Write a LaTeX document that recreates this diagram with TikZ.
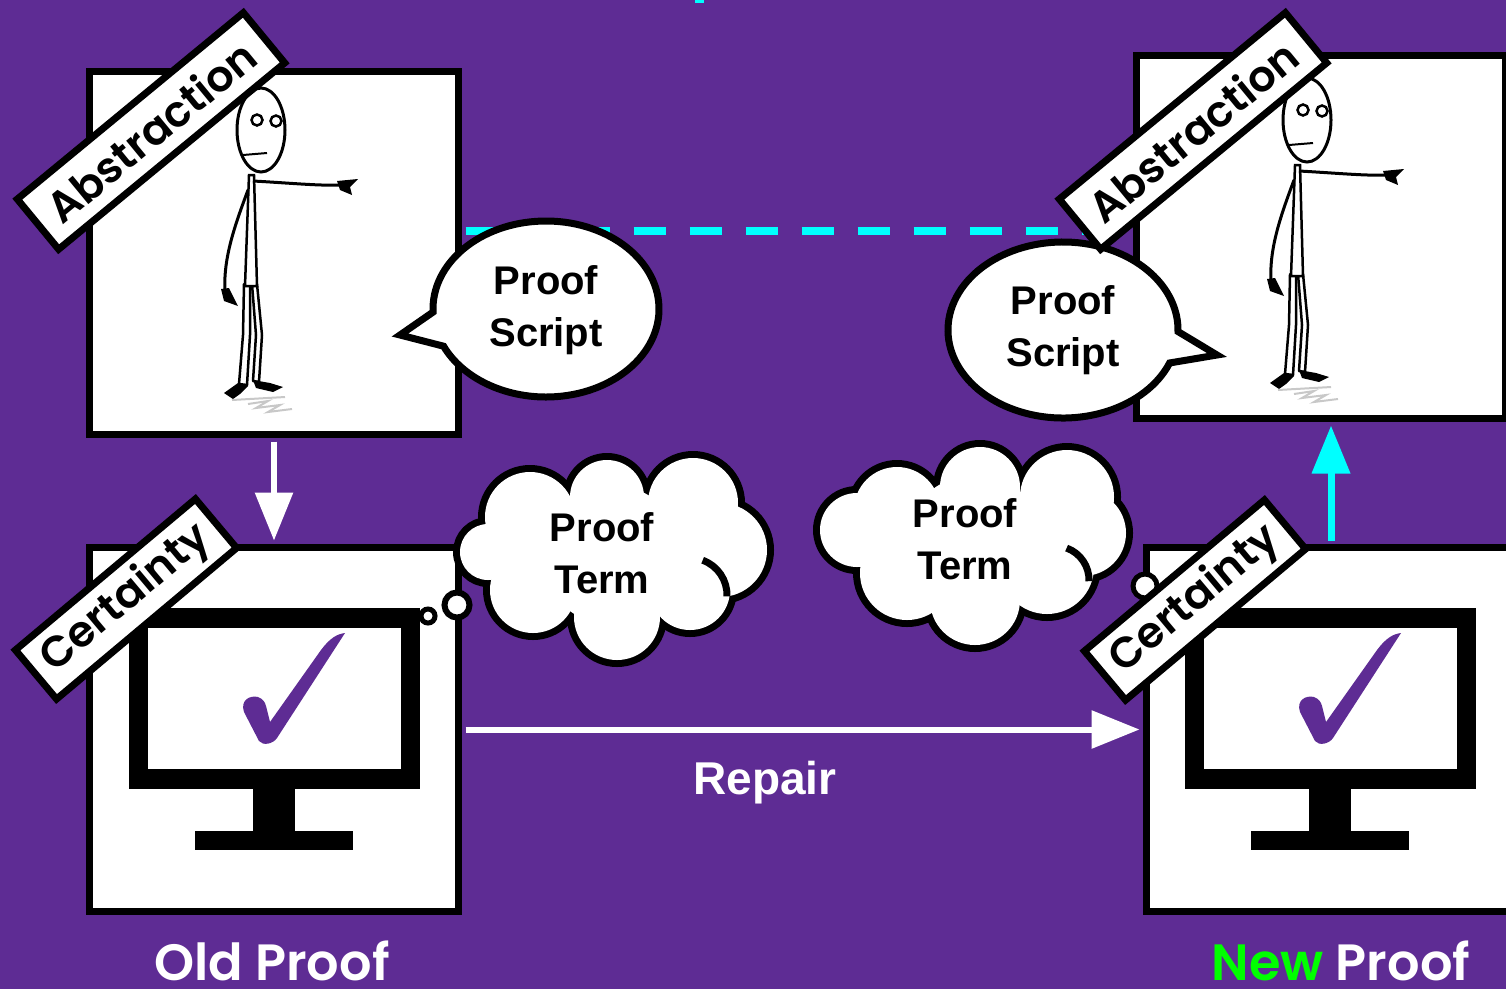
\documentclass[tikz,border=0pt]{standalone}
\usepackage{fontspec}
\setmainfont{Liberation Sans}
\newfontfamily\geo{Poppins}[UprightFont=* SemiBold]
\usetikzlibrary{arrows.meta}
\definecolor{bgpurple}{RGB}{94,44,148}
\definecolor{cyanline}{RGB}{0,255,255}
\definecolor{newgreen}{RGB}{0,255,0}

% lobes of the two thought clouds: x/y/radius
\newcommand\cloudleftlobes{488/552/28, 530/517/45, 607/497/37, 693/503/45, 720/550/47, 690/590/40, 617/617/43, 533/590/43, 612/555/70}
\newcommand\cloudrightlobes{857/530/37, 897/510/43, 980/487/40, 1067/497/47, 1083/533/43, 1047/567/47, 975/600/45, 907/573/47, 975/545/70}

\begin{document}
\begin{tikzpicture}[x=1pt,y=-1pt,
  panel/.style={draw=black, fill=white, line width=7pt, minimum width=369pt, minimum height=363pt, inner sep=0pt},
  tag/.style={draw=black, fill=white, line width=7pt, inner sep=0pt, text=black, font=\geo\fontsize{43}{43}\selectfont},
  bubbletext/.style={font=\bfseries\fontsize{40}{52}\selectfont, align=center, text=black},
  outline/.style={draw=black, fill=white, line width=7pt, line join=miter},
  flow/.style={draw=white, line width=6pt, -{Triangle[length=48pt,width=37pt]}, shorten <=3.5pt, shorten >=3.5pt},
  curl/.style={draw=black, line width=7pt},
  stickman/.pic={
    % legs
    \filldraw[fill=white, line width=2.5pt, line join=round] (244,284) -- (243,335) -- (239,384) -- (247,385) -- (250,335) -- (250,284) -- cycle;
    \filldraw[fill=white, line width=2.5pt, line join=round] (252,284) -- (256,335) -- (253,381) -- (259,382) -- (262,335) -- (257,284) -- cycle;
    % torso
    \filldraw[fill=white, line width=2.5pt] (249,175) -- (245,286) -- (257,286) -- (254,175) -- cycle;
    % feet
    \fill (224,393) -- (238,383) -- (248,386) -- (240,394) -- (233,399) -- cycle;
    \fill (253,380) -- (270,383) -- (283,387) -- (273,392) -- (256,388) -- cycle;
    % shadow
    \draw[gray!60, line width=2pt, opacity=.7] (232,400) -- (285,397) (248,404) -- (268,401) -- (256,408) -- (280,405) -- (268,412) -- (292,409);
    % hanging arm
    \draw[line width=3pt] (248,190) .. controls (235,225) and (223,258) .. (225,292);
    \fill (221,289) -- (229,288) -- (238,306) -- (224,301) -- cycle;
    % pointing arm
    \draw[line width=3pt] (253,181) .. controls (290,183) and (320,186) .. (342,185);
    \fill (337,181) -- (358,179) -- (350,187) -- (352,195) -- (340,190) -- cycle;
    % head
    \filldraw[fill=white, line width=3pt] (261,130) ellipse[x radius=24, y radius=42];
    \draw[line width=2.5pt] (257,120) circle[radius=5.5] (276,121) circle[radius=5.5];
    \draw[line width=2pt] (243,155) -- (267,153);
  },
  monitor/.pic={
    \fill[black] (129,608) rectangle (420,789);
    \fill[white] (148,628) rectangle (401,769);
    \fill[black] (253,788) rectangle (295,832);
    \fill[black] (195,831) rectangle (353,850);
    \fill[bgpurple] (244,712) .. controls (240,700) and (250,695) .. (258,697)
      .. controls (263,699) and (265,702) .. (266,706) -- (270,722) -- (321,650)
      .. controls (330,638) and (337,634) .. (345,633) -- (277,738)
      .. controls (273,744) and (263,746) .. (259,741) -- cycle;
  }
]
\useasboundingbox (0,0) rectangle (1506,989);
\fill[bgpurple] (0,0) rectangle (1506,989);
\fill[cyanline] (695,0) rectangle (704,3);

% panels
\node[panel] (absL) at (274,253) {};
\node[panel] (absR) at (1321,237) {};
\node[panel, minimum height=364pt] (cerL) at (274,729.5) {};
\node[panel, minimum height=364pt] (cerR) at (1331,729.5) {};

% dashed link between the two abstraction panels
\draw[cyanline, line width=8pt, dash pattern=on 32pt off 24pt, shorten <=3.5pt, shorten >=3.5pt]
  ([yshift=22pt]absL.east) -- ([yshift=6pt]absR.west);

% figures and monitors
\pic (manL) at (0,0) {stickman};
\pic (manR) at (1046,-10) {stickman};
\pic (monL) at (0,0) {monitor};
\pic (monR) at (1056,0) {monitor};

% speech bubbles
\path[outline] (546,309) ++(178:113 and 88) arc[start angle=178, end angle=515, x radius=113, y radius=88] -- (400,335) -- cycle;
\path[outline] (1063,330) ++(22:115 and 88) arc[start angle=22, end angle=361, x radius=115, y radius=88] -- (1217,355) -- cycle;

% thought bubbles: trailing dots
\draw[line width=5pt, fill=white] (428,616) circle[radius=7];
\draw[line width=6pt, fill=white] (457,605) circle[radius=12.5];
\draw[line width=5pt, fill=white] (1145,586) circle[radius=12];

% thought clouds as unions of lobes
\foreach \cx/\cy/\r in \cloudleftlobes \draw[line width=14pt] (\cx,\cy) circle[radius=\r];
\foreach \cx/\cy/\r in \cloudleftlobes \fill[white] (\cx,\cy) circle[radius=\r];
\foreach \cx/\cy/\r in \cloudrightlobes \draw[line width=14pt] (\cx,\cy) circle[radius=\r];
\foreach \cx/\cy/\r in \cloudrightlobes \fill[white] (\cx,\cy) circle[radius=\r];
\draw[curl] (690,595) ++(-70:37) arc[start angle=-70, end angle=2, radius=37];
\draw[curl] (1055,580) ++(-70:34) arc[start angle=-70, end angle=2, radius=34];

% tags
\node[tag, minimum width=293pt, minimum height=65pt, rotate=39.5] (tagAbsL) at (151,131) {Abstraction};
\node[tag, minimum width=293pt, minimum height=65pt, rotate=39.5] (tagAbsR) at (1193,131) {Abstraction};
\node[tag, minimum width=235pt, minimum height=64pt, rotate=40] (tagCerL) at (126,599) {Certainty};
\node[tag, minimum width=235pt, minimum height=64pt, rotate=40] (tagCerR) at (1195,600) {Certainty};

% connectors
\draw[flow] (absL.south) -- (cerL.north);
\draw[flow] (cerL.east) -- (cerR.west);
\draw[flow, draw=cyanline, line width=7pt] (cerR.north) -- (cerR.north |- absR.south);

% texts
\node[bubbletext] (scriptL) at (546,310) {Proof\\Script};
\node[bubbletext] (scriptR) at (1063,330) {Proof\\Script};
\node[bubbletext] (termL) at (602,553) {Proof\\Term};
\node[bubbletext] (termR) at (965,539) {Proof\\Term};
\node[font=\bfseries\fontsize{46}{46}\selectfont, text=white] (repair) at (765,783) {Repair};
\node[font=\geo\fontsize{51}{51}\selectfont, text=white, anchor=base] (oldp) at (272,980) {Old Proof};
\node[font=\geo\fontsize{51}{51}\selectfont, text=white, anchor=base] (newp) at (1341,980) {\textcolor{newgreen}{New} Proof};
\end{tikzpicture}
\end{document}
